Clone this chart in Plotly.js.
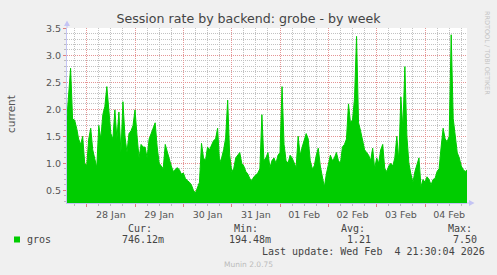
<!DOCTYPE html>
<html>
<head>
<meta charset="utf-8">
<script src="https://cdn.plot.ly/plotly-3.0.1.min.js"></script>
<style>html,body{margin:0;padding:0;background:#F0F0F0;}#chart{width:497px;height:275px;}</style>
</head>
<body>
<div id="chart"></div>
<script>
// ---- data (hourly samples) ----
const seriesName = "gros";
const startTime = "2026-01-27T14:00:00Z";
const stepHours = 1;
const sessionRate = [
  1.75, 2.2, 2.76, 1.82, 1.8, 1.65, 1.45, 1.35, 1.5, 1.0,
  0.95, 1.45, 1.65, 1.25, 1.05, 0.92, 1.7, 1.45, 1.9, 2.05,
  2.42, 2.0, 1.55, 1.45, 1.99, 1.45, 1.95, 1.2, 2.14, 1.5,
  1.2, 1.55, 1.6, 1.7, 1.99, 1.5, 1.1, 1.35, 1.3, 1.3,
  1.1, 1.45, 1.55, 1.65, 1.75, 1.3, 1.0, 0.95, 0.9, 1.35,
  1.2, 1.05, 0.95, 0.85, 0.88, 0.92, 0.88, 0.8, 0.82, 0.72,
  0.68, 0.65, 0.6, 0.5, 0.45, 0.55, 0.65, 1.37, 1.1, 1.05,
  1.3, 1.25, 1.35, 1.42, 1.45, 1.65, 1.0, 1.1, 1.25, 1.47,
  2.17, 1.15, 0.85, 0.9, 1.1, 1.15, 1.2, 1.0, 0.95, 0.85,
  0.8, 0.72, 0.68, 0.75, 0.78, 0.82, 0.9, 1.9, 1.05, 1.1,
  1.2, 0.92, 1.05, 1.1, 1.0, 1.15, 1.2, 2.42, 1.35, 1.05,
  1.0, 1.15, 1.1, 1.0, 0.92, 1.5, 1.15, 1.3, 1.45, 1.55,
  1.45, 1.05, 0.9, 0.95, 1.15, 1.28, 0.95, 0.75, 0.56, 0.8,
  0.95, 1.15, 1.05, 1.1, 1.2, 1.05, 1.0, 1.3, 1.35, 1.45,
  2.1, 1.75, 1.8, 2.2, 3.35, 1.75, 1.6, 1.45, 1.25, 1.2,
  1.15, 1.05, 1.28, 0.9, 1.1, 1.0, 1.25, 1.35, 0.9, 0.85,
  0.95, 1.0, 0.95, 1.1, 1.5, 1.05, 2.23, 1.65, 2.79, 1.5,
  1.0, 0.8, 0.65, 0.85, 1.0, 1.1, 0.56, 0.7, 0.65, 0.75,
  0.7, 0.6, 0.7, 0.72, 0.85, 0.9, 1.3, 1.65, 1.45, 1.4,
  1.5, 3.38, 1.83, 1.5, 1.2, 1.1, 0.95, 0.88, 0.85, 0.88
];
const yTickVals = [0.5, 1.0, 1.5, 2.0, 2.5, 3.0, 3.5];
const legendHeaders = ["Cur:", "Min:", "Avg:", "Max:"];
const legendValues = ["746.12m", "194.48m", "1.21", "7.50"];
const titleText = "Session rate by backend: grobe - by week";
const yTitle = "current";
const lastUpdate = "Last update: Wed Feb \u00A04 21:30:04 2026";
const footer = "Munin 2.0.75";
const watermark = "RRDTOOL / TOBI OETIKER";

// ---- build timestamps ----
const t0 = Date.parse(startTime);
const times = sessionRate.map((v, i) =>
  new Date(t0 + i * stepHours * 3600000).toISOString().replace("T", " ").slice(0, 19));

// minor y grid every 0.1, skipping the major (0.5) positions
const yMinorVals = [];
for (let k = 3; k <= 35; k++) { if (k % 5 !== 0) yMinorVals.push(k / 10); }

// ---- layout helpers (pixel -> paper) ----
const L = 67, R = 467, T = 28, B = 203;
const px = x => (x - L) / (R - L);
const py = y => (B - y) / (B - T);
function ann(text, x, y, opts) {
  return Object.assign({
    text: text, x: px(x), y: py(y), xref: "paper", yref: "paper",
    showarrow: false, xanchor: "left", yanchor: "middle", borderpad: 0,
    font: {family: "DejaVu Sans Mono", size: 10, color: "#444"}
  }, opts || {});
}
function path(pts) {
  return "M" + pts.map(p => px(p[0]) + "," + py(p[1])).join(" L") + " Z";
}

const mono = {family: "DejaVu Sans Mono", size: 10, color: "#444"};
const hdrX = [127, 233, 340, 447];
const valX = [121, 228, 346, 452];
const annotations = [];
legendHeaders.forEach((h, i) => annotations.push(ann(h, hdrX[i], 228.5, {font: mono})));
annotations.push(ann(seriesName, 26, 239.5, {font: mono}));
legendValues.forEach((v, i) => annotations.push(ann(v, valX[i], 239.5, {font: mono})));
annotations.push(ann(lastUpdate, 261, 251, {font: mono}));
annotations.push(ann(footer, 248, 264.5, {xanchor: "center", font: {family: "DejaVu Sans", size: 7.5, color: "#bbbbbb"}}));
annotations.push(ann(watermark, 487, 53, {xanchor: "center", textangle: 90, font: {family: "DejaVu Sans", size: 6.5, color: "#c4c4c4"}}));
annotations.push(ann(yTitle, 11, 114, {xanchor: "center", textangle: -90, font: {family: "DejaVu Sans", size: 10.5, color: "#555"}}));

const axisBlue = "#c4c4f4";
const shapes = [
  {type: "rect", xref: "paper", yref: "paper", x0: px(14), x1: px(20), y0: py(242.5), y1: py(236.5),
   fillcolor: "#00CC00", line: {width: 0}},
  {type: "line", xref: "paper", yref: "paper", x0: 0, x1: 0, y0: py(T), y1: py(23),
   line: {color: axisBlue, width: 1}},
  {type: "path", xref: "paper", yref: "paper", path: path([[64, 26], [67, 20.5], [70, 26]]),
   fillcolor: axisBlue, line: {width: 0}},
  {type: "line", xref: "paper", yref: "paper", x0: 1, x1: px(470), y0: 0, y1: 0,
   line: {color: axisBlue, width: 1}},
  {type: "path", xref: "paper", yref: "paper", path: path([[469, 200], [474.5, 203], [469, 206]]),
   fillcolor: axisBlue, line: {width: 0}}
];

const majorGrid = "#e59595";
const minorGrid = "#c2c2c2";

const trace = {
  x: times, y: sessionRate, type: "scatter", mode: "lines",
  fill: "tozeroy", fillcolor: "#00CC00",
  line: {color: "#00CC00", width: 1, shape: "linear"},
  hoverinfo: "skip"
};

const layout = {
  width: 497, height: 275,
  paper_bgcolor: "#F0F0F0", plot_bgcolor: "#FFFFFF",
  margin: {l: L, r: 497 - R, t: T, b: 275 - B, pad: 0},
  showlegend: false,
  font: {family: "DejaVu Sans", size: 9.5, color: "#555"},
  title: {text: titleText, font: {family: "DejaVu Sans", size: 12.6, color: "#444"},
          x: 0.5, xref: "container", xanchor: "center", y: 1 - 19 / 275, yref: "container", yanchor: "middle"},
  xaxis: {
    type: "date",
    range: ["2026-01-27 14:13", "2026-02-04 20:51"],
    tick0: "2026-01-28", dtick: 86400000,
    tickformat: "%d %b", ticklabelmode: "period",
    showgrid: true, gridcolor: majorGrid, griddash: "1px,1px", gridwidth: 1,
    minor: {dtick: 6 * 3600000, tick0: "2026-01-28", showgrid: true, gridcolor: minorGrid, griddash: "1px,1px", gridwidth: 1,
            ticks: "outside", ticklen: 2, tickcolor: "#bbbbbb"},
    ticks: "outside", ticklen: 3, tickcolor: "#e08080",
    showline: true, linecolor: axisBlue, linewidth: 1,
    zeroline: false, fixedrange: true,
    tickfont: {family: "DejaVu Sans", size: 9.5, color: "#555"}
  },
  yaxis: {
    range: [0.265, 3.505],
    tickmode: "array", tickvals: yTickVals, tickformat: ".1f",
    showgrid: true, gridcolor: majorGrid, griddash: "1px,1px", gridwidth: 1,
    minor: {tickmode: "array", tickvals: yMinorVals, showgrid: true, gridcolor: minorGrid, griddash: "1px,1px", gridwidth: 1,
            ticks: "outside", ticklen: 2, tickcolor: "#bbbbbb"},
    ticks: "outside", ticklen: 3, tickcolor: "#e08080",
    showline: true, linecolor: axisBlue, linewidth: 1,
    zeroline: false, fixedrange: true,
    tickfont: {family: "DejaVu Sans", size: 9.5, color: "#555"}
  },
  annotations: annotations,
  shapes: shapes
};

Plotly.newPlot("chart", [trace], layout, {staticPlot: true, displayModeBar: false});
</script>
</body>
</html>
